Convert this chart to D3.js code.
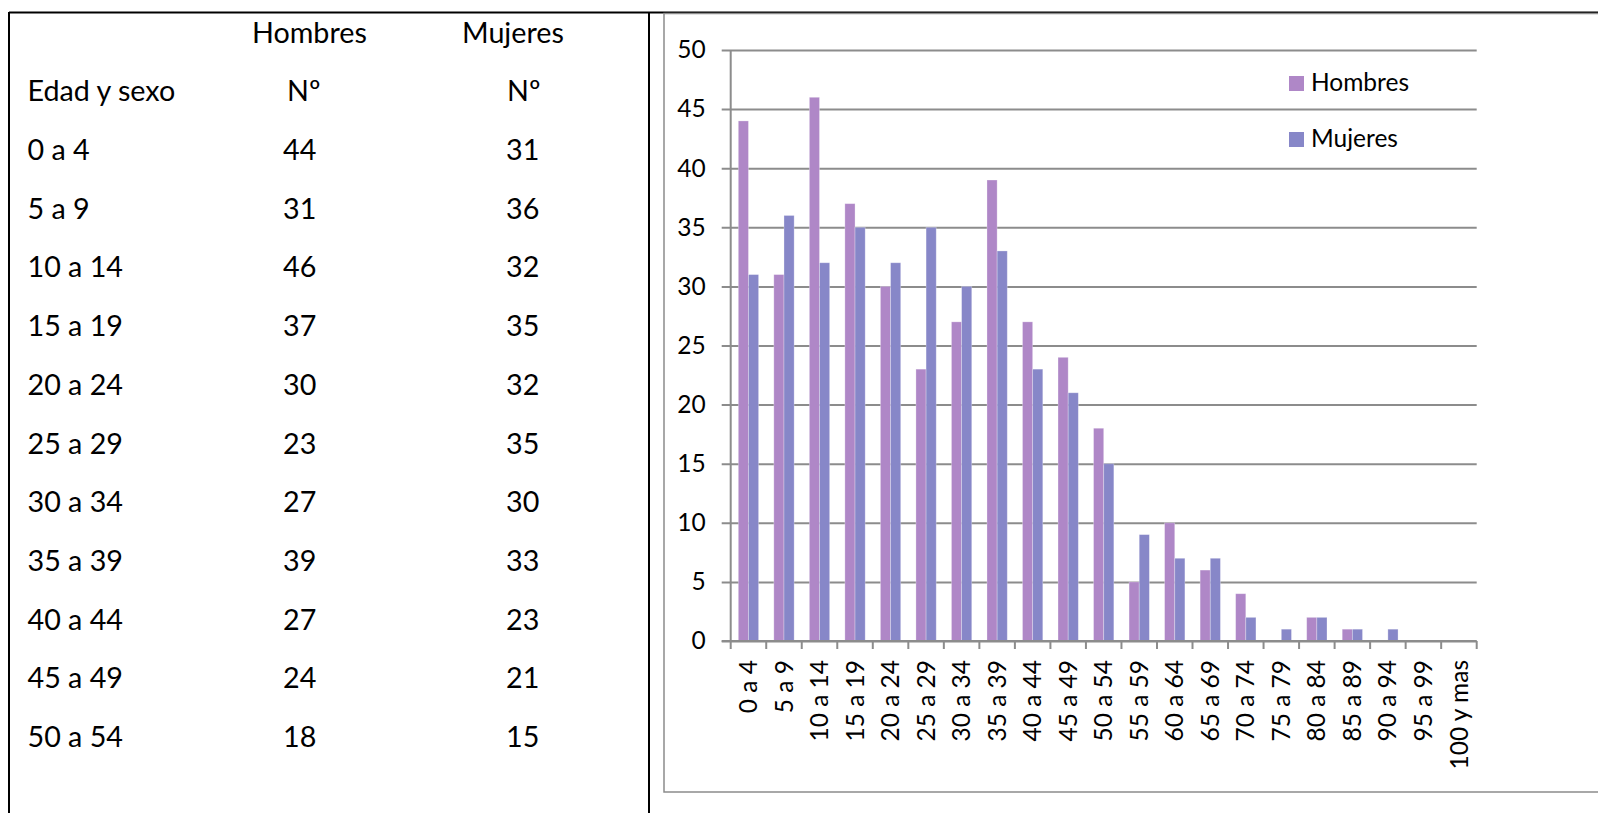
<!DOCTYPE html>
<html>
<head>
<meta charset="utf-8">
<script src="https://cdn.jsdelivr.net/npm/d3@7"></script>
<style>
  html, body { margin: 0; padding: 0; background: #fff; }
  svg { display: block; }
  text { font-family: Lato, "Open Sans", sans-serif; fill: #000; }
</style>
</head>
<body>
<svg id="page" width="1598" height="813"></svg>
<script>
// Population by age group and sex
const categories = ["0 a 4", "5 a 9", "10 a 14", "15 a 19", "20 a 24", "25 a 29", "30 a 34",
  "35 a 39", "40 a 44", "45 a 49", "50 a 54", "55 a 59", "60 a 64", "65 a 69", "70 a 74",
  "75 a 79", "80 a 84", "85 a 89", "90 a 94", "95 a 99", "100 y mas"];
const hombres = [44, 31, 46, 37, 30, 23, 27, 39, 27, 24, 18, 5, 10, 6, 4, 0, 2, 1, 0, 0, 0];
const mujeres = [31, 36, 32, 35, 32, 35, 30, 33, 23, 21, 15, 9, 7, 7, 2, 1, 2, 1, 1, 0, 0];
const seriesNames = ["Hombres", "Mujeres"];
const seriesColors = ["#AF87C7", "#8787C8"];
const yTicks = [0, 5, 10, 15, 20, 25, 30, 35, 40, 45, 50];
const tableRows = 11;

const svg = d3.select("#page");

// ---------- table on the left ----------
const table = svg.append("g");
const rowStep = 58.7;
const firstRowBaseline = 160;

// borders
table.append("line").attr("x1", 9).attr("x2", 1598).attr("y1", 12.5).attr("y2", 12.5)
  .attr("stroke", "#000").attr("stroke-width", 2);
table.append("line").attr("x1", 9).attr("x2", 9).attr("y1", 12).attr("y2", 813)
  .attr("stroke", "#000").attr("stroke-width", 2);
table.append("line").attr("x1", 649).attr("x2", 649).attr("y1", 12).attr("y2", 813)
  .attr("stroke", "#000").attr("stroke-width", 2);

const tFont = 28.7;
const colX = [27.5, 283, 506];
// header rows
table.append("text").attr("x", 252).attr("y", firstRowBaseline - 2 * rowStep)
  .style("font-size", tFont + "px").text("Hombres");
table.append("text").attr("x", 462).attr("y", firstRowBaseline - 2 * rowStep)
  .style("font-size", tFont + "px").text("Mujeres");
table.append("text").attr("x", colX[0]).attr("y", firstRowBaseline - rowStep)
  .style("font-size", tFont + "px").text("Edad y sexo");
table.append("text").attr("x", 287).attr("y", firstRowBaseline - rowStep)
  .style("font-size", tFont + "px").text("Nº");
table.append("text").attr("x", 507).attr("y", firstRowBaseline - rowStep)
  .style("font-size", tFont + "px").text("Nº");

const rows = table.selectAll("g.row")
  .data(categories.slice(0, tableRows).map((c, i) => ({ c, h: hombres[i], m: mujeres[i], i })))
  .join("g").attr("class", "row")
  .attr("transform", d => `translate(0,${firstRowBaseline + d.i * rowStep})`);
rows.append("text").attr("x", colX[0]).style("font-size", tFont + "px").text(d => d.c);
rows.append("text").attr("x", colX[1]).style("font-size", tFont + "px").text(d => d.h);
rows.append("text").attr("x", colX[2]).style("font-size", tFont + "px").text(d => d.m);

// ---------- chart on the right ----------
const chart = svg.append("g");
// chart area frame
chart.append("path")
  .attr("d", "M1598,792 H664 V13.5 H1598")
  .attr("fill", "none").attr("stroke", "#8c8c8c").attr("stroke-width", 1.5);

const plot = { left: 730.7, right: 1476.7, top: 50, bottom: 641 };
const x = d3.scaleBand().domain(categories).range([plot.left, plot.right]).padding(0);
const xs = d3.scaleBand().domain(seriesNames).range([0, x.bandwidth()])
  .paddingInner(0).paddingOuter(0.75);
const y = d3.scaleLinear().domain([0, 50]).range([plot.bottom, plot.top]);

const cFont = 24.5;
const axisColor = "#8c8c8c";

// gridlines + left ticks + labels
const yAxis = chart.append("g")
  .attr("transform", `translate(${plot.left},0)`)
  .call(d3.axisLeft(y).tickValues(yTicks).tickSize(9).tickPadding(16));
yAxis.select(".domain").remove();
yAxis.selectAll(".tick line").attr("stroke", axisColor).attr("stroke-width", 2)
  .attr("x2", plot.right - plot.left).attr("x1", -9);
yAxis.selectAll(".tick text").style("font-size", cFont + "px")
  .style("font-family", "Lato, 'Open Sans', sans-serif").attr("fill", "#000");

// vertical axis line
chart.append("line").attr("x1", plot.left).attr("x2", plot.left)
  .attr("y1", plot.top).attr("y2", plot.bottom)
  .attr("stroke", axisColor).attr("stroke-width", 2);

// x axis tick marks at the category boundaries
const boundaries = categories.map(c => x(c)).concat([plot.right]);
chart.append("g").selectAll("line").data(boundaries).join("line")
  .attr("x1", d => d).attr("x2", d => d)
  .attr("y1", plot.bottom).attr("y2", plot.bottom + 8)
  .attr("stroke", axisColor).attr("stroke-width", 2);

// bars
const groups = chart.append("g").selectAll("g")
  .data(categories.map((c, i) => ({ c, vals: [hombres[i], mujeres[i]] })))
  .join("g").attr("transform", d => `translate(${x(d.c)},0)`);
groups.selectAll("rect")
  .data(d => d.vals.map((v, k) => ({ v, k })))
  .join("rect")
  .attr("x", d => xs(seriesNames[d.k]))
  .attr("width", xs.bandwidth())
  .attr("y", d => y(d.v))
  .attr("height", d => y(0) - y(d.v))
  .attr("fill", d => seriesColors[d.k])
  .attr("stroke", "#ffffff").attr("stroke-opacity", 0.35).attr("stroke-width", 0.8);

// x axis line on top of bars
chart.append("line").attr("x1", plot.left - 9).attr("x2", plot.right)
  .attr("y1", plot.bottom).attr("y2", plot.bottom)
  .attr("stroke", axisColor).attr("stroke-width", 2);

// category labels (rotated)
const xAxis = chart.append("g")
  .attr("transform", `translate(0,${plot.bottom})`)
  .call(d3.axisBottom(x).tickSize(0));
xAxis.select(".domain").remove();
xAxis.selectAll(".tick text")
  .style("font-size", cFont + "px")
  .style("font-family", "Lato, 'Open Sans', sans-serif")
  .attr("fill", "#000")
  .attr("text-anchor", "end")
  .attr("transform", "rotate(-90)")
  .attr("x", -19).attr("y", 0).attr("dy", "0.35em");

// legend
const legend = chart.append("g").selectAll("g").data(seriesNames).join("g")
  .attr("transform", (d, i) => `translate(1289,${76 + i * 56})`);
legend.append("rect").attr("width", 15).attr("height", 15)
  .attr("fill", (d, i) => seriesColors[i]);
legend.append("text").attr("x", 22).attr("y", 15)
  .style("font-size", cFont + "px").text(d => d);
</script>
</body>
</html>
